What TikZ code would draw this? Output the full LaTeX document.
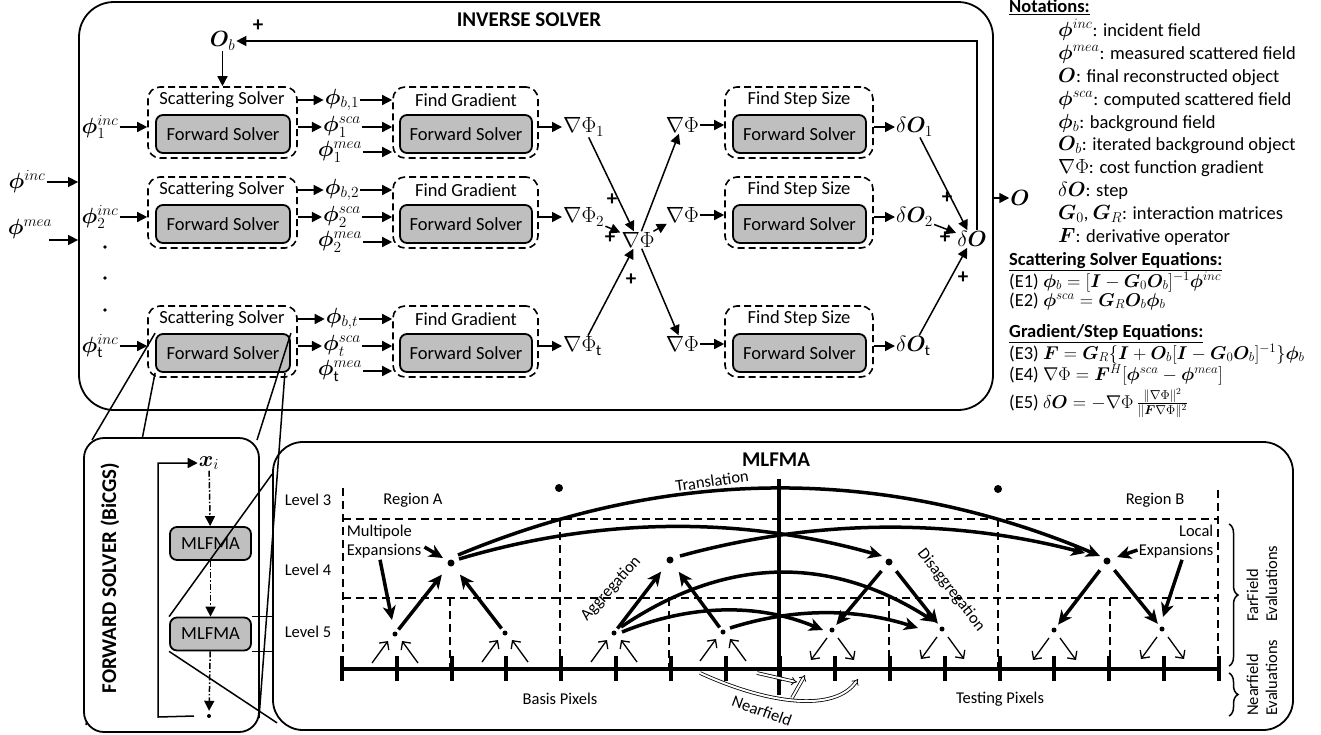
\documentclass[tikz,border=0pt]{standalone}
\usepackage{fix-cm}
\usepackage{amsmath}
\usepackage{bm}
\usepackage{fontspec}
\setmainfont{Carlito}
\usetikzlibrary{arrows.meta,calc,decorations.pathreplacing}
\newcommand{\fsA}{\fontsize{18.5}{22}\selectfont}
\newcommand{\fsB}{\fontsize{16.5}{19}\selectfont}
\newcommand{\fsM}{\fontsize{22}{26}\selectfont}
\newcommand{\fsN}{\fontsize{20.5}{24}\selectfont}
\newcommand{\fsT}{\fontsize{21}{25}\selectfont\bfseries}
\newcommand{\nmth}[1]{{\fsN$#1$}}
\begin{document}
\begin{tikzpicture}[x=1pt,y=-1pt,
  every node/.style={font=\fsA, inner sep=1pt},
  ml/.style={font=\fsM},
  conn/.style={line width=1.5pt,-{Triangle[length=10pt,width=10pt]}},
  dbox/.style={draw, line width=1.6pt, dash pattern=on 7pt off 4pt, rounded corners=12pt, minimum width=#1, minimum height=71pt},
  gbox/.style={draw, fill=black!25, line width=1.8pt, rounded corners=7pt, minimum width=#1, minimum height=38pt},
  plus/.style={font=\fontsize{21}{25}\selectfont\bfseries},
  bdot/.style={circle, fill=black, inner sep=0pt, minimum size=#1},
  gd/.style={line width=1.5pt, dash pattern=on 8pt off 5pt},
  tk/.style={line width=3.5pt, -{Stealth[length=14pt,width=13pt,inset=4pt]}},
  tn/.style={line width=1.3pt, -{Straight Barb[length=6pt,width=12pt]}},
  nf/.style={double, double distance=2pt, line width=0.8pt, -{Implies}},
  lbl/.style={font=\fsB},
  cone/.style={line width=1.5pt},
  dd/.style={line width=1.5pt, dash pattern=on 6pt off 2pt on 1.5pt off 2pt, -{Triangle[length=10pt,width=10pt]}},
]
\useasboundingbox (0,0) rectangle (1321,734);

% ---------------- INVERSE SOLVER ----------------
\node[draw, line width=1.8pt, rounded corners=35pt, minimum width=914pt, minimum height=408pt] (inv) at (536,206) {};
\node[font=\fsT] at (529,20) {INVERSE SOLVER};

\node[ml] (phiinc) at (27,182) {$\bm{\phi}^{inc}$};
\draw[conn] (phiinc) -- (inv.west |- phiinc);
\node[ml] (phimea) at (30,229) {$\bm{\phi}^{mea}$};
\coordinate (meaarr) at (49,240);
\draw[conn] (meaarr) -- (inv.west |- meaarr);

\foreach \rw/\yo/\rs/\ri in {1/87/1/1, 2/177/2/2, t/306/\mathrm{t}/t}{
  \node[dbox=149pt] (ss\rw) at (222.5,\yo+35.5) {};
  \node at (222,\yo+13) {Scattering Solver};
  \node[gbox=134pt] (fs\rw) at (223,\yo+47) {Forward Solver};
  \node[dbox=145pt] (fg\rw) at (465.5,\yo+35.5) {};
  \node at (466,\yo+13) {Find Gradient};
  \node[gbox=132pt] (fgg\rw) at (466,\yo+47) {Forward Solver};
  \node[dbox=148pt] (sb\rw) at (799,\yo+35.5) {};
  \node at (799,\yo+13) {Find Step Size};
  \node[gbox=133pt] (sg\rw) at (799.5,\yo+47) {Forward Solver};
  \node[ml] (inc\rw) at (100,\yo+40) {$\bm{\phi}^{inc}_{\rs}$};
  \draw[conn] (inc\rw) -- (ss\rw.west |- inc\rw);
  \node[ml] (pb\rw) at (342,\yo+13) {$\bm{\phi}_{b,\ri}$};
  \node[ml] (ps\rw) at (342,\yo+40) {$\bm{\phi}^{sca}_{\ri}$};
  \node[ml] (pm\rw) at (340,\yo+65) {$\bm{\phi}^{mea}_{\rs}$};
  \draw[conn] (ss\rw.east |- pb\rw) -- (pb\rw);
  \draw[conn] (ss\rw.east |- ps\rw) -- (ps\rw);
  \draw[conn] (pb\rw) -- (fg\rw.west |- pb\rw);
  \draw[conn] (ps\rw) -- (fg\rw.west |- ps\rw);
  \draw[conn] (pm\rw) -- (fg\rw.west |- pm\rw);
  \node[ml, anchor=west] (go\rw) at (562,\yo+40) {$\nabla\Phi_{\rs}$};
  \draw[conn] (fg\rw.east |- go\rw) -- (go\rw);
  \node[ml, anchor=east] (gs\rw) at (700,\yo+38) {$\nabla\Phi$};
  \draw[conn] (gs\rw) -- (sb\rw.west |- gs\rw);
  \node[ml, anchor=west] (dO\rw) at (895,\yo+40) {$\delta\bm{O}_{\rs}$};
  \draw[conn] (sb\rw.east |- dO\rw) -- (dO\rw);
}
\foreach \yy in {247,278,310} \fill (105,\yy) circle (1.8pt);

% gradient sum
\node[ml] (sumG) at (638,240) {$\nabla\Phi$};
\node[plus] at (610,238) {+};
\node[plus] at (612,200) {+};
\node[plus] at (631,280) {+};
\draw[conn] (go1) -- (sumG);
\draw[conn] (go2) -- (sumG);
\draw[conn] (got) -- (sumG);
\draw[conn] (sumG) -- (gs1);
\draw[conn] (sumG) -- (gs2);
\draw[conn] (sumG) -- (gst);

% step sum
\node[ml] (sumD) at (972,239) {$\delta\bm{O}$};
\node[plus] at (945,238) {+};
\node[plus] at (947,198) {+};
\node[plus] at (963,278) {+};
\draw[conn] (dO1) -- (sumD);
\draw[conn] (dO2) -- (sumD);
\draw[conn] (dOt) -- (sumD);

% feedback
\node[ml] (Ob) at (222.5,41) {$\bm{O}_b$};
\node[plus] at (258,26) {+};
\coordinate (fbc) at (977,43);
\draw[conn] (fbc |- sumD.north) |- (Ob);
\draw[conn] (Ob) -- (ss1);
\node[ml] (Ofin) at (1020,198) {$\bm{O}$};
\draw[conn] (inv.east |- Ofin) -- (Ofin);

% ---------------- Notations ----------------
\node[anchor=base west] at (1008,12) {\textbf{\underline{Notations:}}};
\node[anchor=base west] at (1057,36) {\nmth{\bm{\phi}^{inc}}: incident field};
\node[anchor=base west] at (1057,59) {\nmth{\bm{\phi}^{mea}}: measured scattered field};
\node[anchor=base west] at (1057,82) {\nmth{\bm{O}}: final reconstructed object};
\node[anchor=base west] at (1057,105) {\nmth{\bm{\phi}^{sca}}: computed scattered field};
\node[anchor=base west] at (1057,128) {\nmth{\bm{\phi}_b}: background field};
\node[anchor=base west] at (1057,150) {\nmth{\bm{O}_b}: iterated background object};
\node[anchor=base west] at (1057,173) {\nmth{\nabla\Phi}: cost function gradient};
\node[anchor=base west] at (1057,196) {\nmth{\delta\bm{O}}: step};
\node[anchor=base west] at (1057,219) {\nmth{\bm{G}_0}, \nmth{\bm{G}_R}: interaction matrices};
\node[anchor=base west] at (1057,242) {\nmth{\bm{F}}: derivative operator};
\node[anchor=base west] at (1008,265) {\textbf{\underline{Scattering Solver Equations:}}};
\node[anchor=base west] at (1008,287) {(E1) $\bm{\phi}_b=[\bm{I}-\bm{G}_0\bm{O}_b]^{-1}\bm{\phi}^{inc}$};
\node[anchor=base west] at (1008,306) {(E2) $\bm{\phi}^{sca}=\bm{G}_R\bm{O}_b\bm{\phi}_b$};
\node[anchor=base west] at (1008,337) {\textbf{\underline{Gradient/Step Equations:}}};
\node[anchor=base west] at (1008,359) {(E3) $\bm{F}=\bm{G}_R\{\bm{I}+\bm{O}_b[\bm{I}-\bm{G}_0\bm{O}_b]^{-1}\}\bm{\phi}_b$};
\node[anchor=base west] at (1008,380) {(E4) $\nabla\Phi=\bm{F}^H[\bm{\phi}^{sca}-\bm{\phi}^{mea}]$};
\node[anchor=base west] at (1008,408) {(E5) $\delta\bm{O}=-\nabla\Phi\,\frac{\|\nabla\Phi\|^2}{\|\bm{F}\nabla\Phi\|^2}$};

% ---------------- cone from top forward solver ----------------
\draw[cone] (fst.north west) -- (92,440);
\draw[cone] (fst.south west) -- (86,725);
\draw[cone] (fst.north east) -- (257,440);
\draw[cone] ($(fst.south east)+(-6,0)$) -- (259,718);

% ---------------- FORWARD SOLVER (BiCGS) ----------------
\node[draw, fill=white, line width=1.8pt, rounded corners=20pt, minimum width=175pt, minimum height=294pt] (fsb) at (171.5,585) {};
\node[font=\fsT, rotate=90] at (110,578) {FORWARD SOLVER (BiCGS)};
\node[ml] (xi) at (209,463) {$\bm{x}_i$};
\node[gbox=81pt, minimum height=33pt] (m1) at (210.5,543.5) {MLFMA};
\node[gbox=81pt, minimum height=33pt] (m2) at (210.5,634) {MLFMA};
\node[bdot=4pt] (fin) at (209,716) {};
\coordinate (lp) at (158,717);
\draw[conn] ($(fin)+(-15,0)$) -- (lp) |- (xi);
\draw[dd] (xi) -- (m1);
\draw[dd] (m1) -- (m2);
\draw[dd, shorten >=3pt] (m2) -- (fin);

% ---------------- MLFMA ----------------
\node[draw, line width=1.8pt, rounded corners=30pt, minimum width=1020pt, minimum height=288pt] (mlb) at (783,586) {};
\draw[cone] (m2.north west) -- ($(mlb.north west)+(0,33)$);
\draw[cone] (m2.south west) -- ($(mlb.south west)+(5,-8)$);
\draw[cone] (m2.north east) -- (mlb.west |- m2.north east);
\draw[cone] (m2.south east) -- (mlb.west |- m2.south east);
\node[font=\fsT] at (776,460) {MLFMA};

% grid
\draw[gd] (343,488) -- (343,669);
\draw[gd] (343,519) -- (1218,519);
\draw[gd] (1218,490) -- (1218,669);
\draw[gd] (343,598) -- (1218,598);
\draw[gd] (560,519) -- (560,669);
\draw[gd] (998,519) -- (998,669);
\foreach \xx in {450,669,889,1110} \draw[gd] (\xx,598) -- (\xx,669);

% axis
\draw[line width=4pt] (342,669) -- (1219,669);
\foreach \k in {0,...,16} \draw[line width=4pt] ({342+54.8*\k},656) -- ++(0,25);
\draw[line width=4pt] (779,479) -- (779,695);

% labels
\node[lbl] at (308,500) {Level 3};
\node[lbl] at (308,570) {Level 4};
\node[lbl] at (308,632) {Level 5};
\node[lbl] at (413,500) {Region A};
\node[lbl] at (1155,500) {Region B};
\node[lbl] at (560,699) {Basis Pixels};
\node[lbl] at (1000,699) {Testing Pixels};
\node[lbl, rotate=8] at (712,481) {Translation};
\node[lbl, rotate=48] at (611,589) {Aggregation};
\node[lbl, rotate=-52] at (951,590) {Disaggregation};
\node[lbl, rotate=-20] at (762,711) {Nearfield};
\node[lbl, align=left] (mp) at (384,542) {Multipole\\Expansions};
\node[lbl, align=right] (lc) at (1176,542) {Local\\Expansions};

% dots
\node[bdot=8pt] (a3) at (559,488) {};
\node[bdot=8pt] (b3) at (998,489) {};
\node[bdot=7pt] (a4) at (451,563) {};
\node[bdot=7pt] (b4) at (670,560) {};
\node[bdot=7pt] (c4) at (889,562) {};
\node[bdot=7pt] (e4) at (1107,561) {};
\node[bdot=5pt] (l1) at (395,634) {};
\node[bdot=5pt] (l2) at (505,633) {};
\node[bdot=5pt] (l3) at (614,633) {};
\node[bdot=5pt] (l4) at (723,632) {};
\node[bdot=5pt] (r1) at (832,630) {};
\node[bdot=5pt] (r2) at (942,629) {};
\node[bdot=5pt] (r3) at (1054,630) {};
\node[bdot=5pt] (r4) at (1162,629) {};

% aggregation / disaggregation
\foreach \s/\t in {l1/a4,l2/a4,l3/b4,l4/b4}
  \draw[tk, shorten <=3pt, shorten >=11pt] (\s) -- (\t);
\foreach \s/\t in {c4/r1,c4/r2,e4/r3,e4/r4}
  \draw[tk, shorten <=8pt, shorten >=4pt] (\s) -- (\t);

% translations
\draw[tk] ($(a4)+(7,-8)$) .. controls (672,466) and (886,466) .. ($(e4)+(-7,-5)$);
\draw[tk] ($(a4)+(8,-4)$) .. controls (600,517) and (741,516) .. ($(c4)+(-7,-6)$);
\draw[tk] ($(b4)+(10,-4)$) .. controls (815,519) and (950,518) .. ($(e4)+(-22,-8)$);
\draw[tk] ($(l3)+(7,-6)$) .. controls (726,556) and (830,555) .. ($(r2)+(-7,-7)$);
\draw[tk] ($(l3)+(8,-1)$) .. controls (691,604) and (758,603) .. ($(r1)+(-9,0)$);
\draw[tk] ($(l4)+(7,-4)$) .. controls (793,608) and (855,608) .. ($(r2)+(-24,-1)$);

% expansions pointers
\draw[tk] ($(mp.east)+(2,5)$) -- ($(a4)+(-8,-5)$);
\draw[tk] ($(mp.south)+(-4,0)$) -- ($(l1)+(-3,-14)$);
\draw[tk] ($(lc.west)+(0,8)$) -- ($(e4)+(10,-4)$);
\draw[tk] ($(lc.south)+(6,0)$) -- ($(r4)+(1,-12)$);

% thin arrows
\foreach \n in {l1,l2,l3,l4}{
  \draw[tn] ($(\n)+(-23,29)$) -- ($(\n)+(-7,7)$);
  \draw[tn] ($(\n)+(23,29)$) -- ($(\n)+(7,7)$);
}
\foreach \n in {r1,r2,r3,r4}{
  \draw[tn] ($(\n)+(-5,8)$) -- ($(\n)+(-21,30)$);
  \draw[tn] ($(\n)+(6,8)$) -- ($(\n)+(22,30)$);
}

% nearfield
\draw[nf] (700,673) .. controls (770,705) and (835,712) .. (858,679);
\draw[nf] (757,673) .. controls (775,678) .. (797,682);
\draw[nf] (792,698) -- (805,675);

% braces
\draw[line width=1.5pt, decorate, decoration={brace, amplitude=9pt}] (1229,524) -- (1229,666);
\draw[line width=1.5pt, decorate, decoration={brace, amplitude=9pt}] (1229,673) -- (1229,716);
\node[lbl, rotate=90, align=left, anchor=west] at (1262,623) {FarField\\Evaluations};
\node[lbl, rotate=90, align=left, anchor=west] at (1262,717) {Nearfield\\Evaluations};
\end{tikzpicture}
\end{document}
